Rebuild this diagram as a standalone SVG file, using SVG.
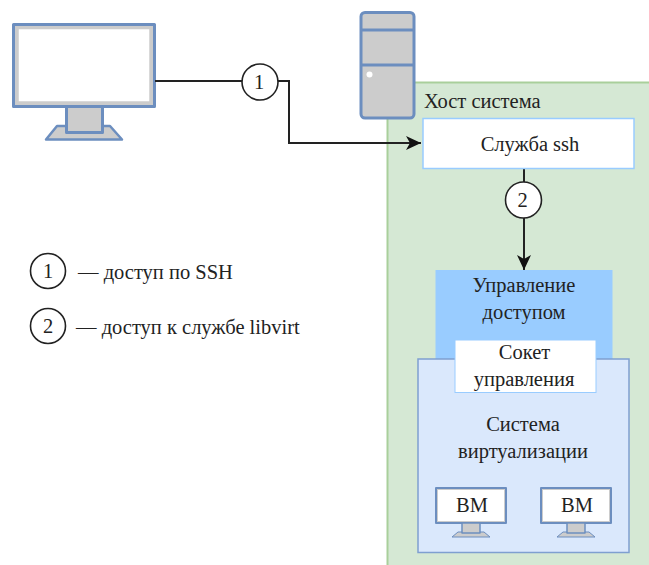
<svg xmlns="http://www.w3.org/2000/svg" width="649" height="565" viewBox="0 0 649 565">
<style>
text{font-family:"Liberation Serif",serif;font-size:20.5px;fill:#222}
.m{text-anchor:middle}
.pc{fill:#ccc;stroke:#6c8ebf;stroke-linejoin:round}
.scr{fill:#fff;stroke:#ccc}
.c{fill:#fff;stroke:#222;stroke-width:1.6}
.l{fill:none;stroke:#222;stroke-width:2}
</style>
<defs>
<marker id="a" markerUnits="userSpaceOnUse" markerWidth="16" markerHeight="16" refX="15" refY="8" orient="auto"><path d="M0 1 L15 8 L0 15 L4 8 Z" fill="#111"/></marker>
</defs>
<rect width="649" height="565" fill="#fff"/>
<g id="host"><rect x="387.500" y="82.500" width="270" height="500" fill="#d5e8d4" stroke="#a9cf9b" stroke-width="2"/><text x="424" y="108">Хост система</text></g>
<g id="pc">
<rect class="pc" x="13.500" y="24.500" width="141" height="82" stroke-width="3"/>
<rect class="scr" x="17.500" y="28" width="133" height="74.500" stroke-width="2.500"/>
<path class="pc" stroke-width="2.500" d="M46 139.500 L57 126 H110 L122 139.500 Z"/>
<rect class="pc" x="66.500" y="106.500" width="36" height="26" stroke-width="3"/>
</g>
<g id="server">
<rect class="pc" x="361" y="12.500" width="53" height="105.500" rx="4" stroke-width="3"/>
<path d="M361 30H414M361 65H414" stroke="#6c8ebf" stroke-width="3" fill="none"/>
<circle cx="369.500" cy="74.500" r="3" fill="#fff"/>
</g>
<g id="connectors">
<path class="l" d="M155 81H289V143H421" marker-end="url(#a)"/>
<path class="l" d="M524 168V270" marker-end="url(#a)"/>
</g>
<g id="ssh"><rect x="423" y="118.500" width="211" height="50" fill="#fff" stroke="#99ccff" stroke-width="1.500"/><text class="m" x="530" y="151">Служба ssh</text></g>
<g id="n1"><circle class="c" cx="260" cy="82" r="18"/><text class="m" x="259" y="89">1</text></g>
<g id="n2"><circle class="c" cx="523.500" cy="200" r="18"/><text class="m" x="522.500" y="207">2</text></g>
<g id="access"><rect x="435.500" y="270" width="177" height="90" fill="#99ccff"/><text class="m" x="524" y="292">Управление</text><text class="m" x="524" y="319">доступом</text></g>
<g id="virt"><rect x="418" y="359" width="211" height="193.500" fill="#dae8fc" stroke="#7f9fd0" stroke-width="1.500"/><text class="m" x="523" y="431">Система</text><text class="m" x="523" y="458">виртуализации</text></g>
<g id="socket"><rect x="455" y="340" width="141" height="52.500" fill="#fff" stroke="#99ccff" stroke-width="1"/><text class="m" x="524.500" y="359">Сокет</text><text class="m" x="524" y="386">управления</text></g>
<g id="vm1">
<rect class="pc" x="436" y="488" width="70" height="35" stroke-width="2"/>
<rect x="438" y="490" width="66" height="31" fill="#fff"/>
<path class="pc" stroke-width="1" d="M452 537 L458 532 H484 L490 537 Z"/>
<rect class="pc" x="462" y="523" width="18" height="10" stroke-width="1.500"/>
<text class="m" x="472" y="512">ВМ</text>
</g>
<g id="vm2">
<rect class="pc" x="541" y="488" width="70" height="35" stroke-width="2"/>
<rect x="543" y="490" width="66" height="31" fill="#fff"/>
<path class="pc" stroke-width="1" d="M557 537 L563 532 H589 L595 537 Z"/>
<rect class="pc" x="567" y="523" width="18" height="10" stroke-width="1.500"/>
<text class="m" x="577" y="512">ВМ</text>
</g>
<g id="legend1"><circle class="c" cx="48" cy="271" r="17.500"/><text class="m" x="48" y="278">1</text><text x="78" y="279">— доступ по SSH</text></g>
<g id="legend2"><circle class="c" cx="48" cy="326" r="17.500"/><text class="m" x="48" y="333">2</text><text x="76" y="334">— доступ к службе libvirt</text></g>
</svg>
